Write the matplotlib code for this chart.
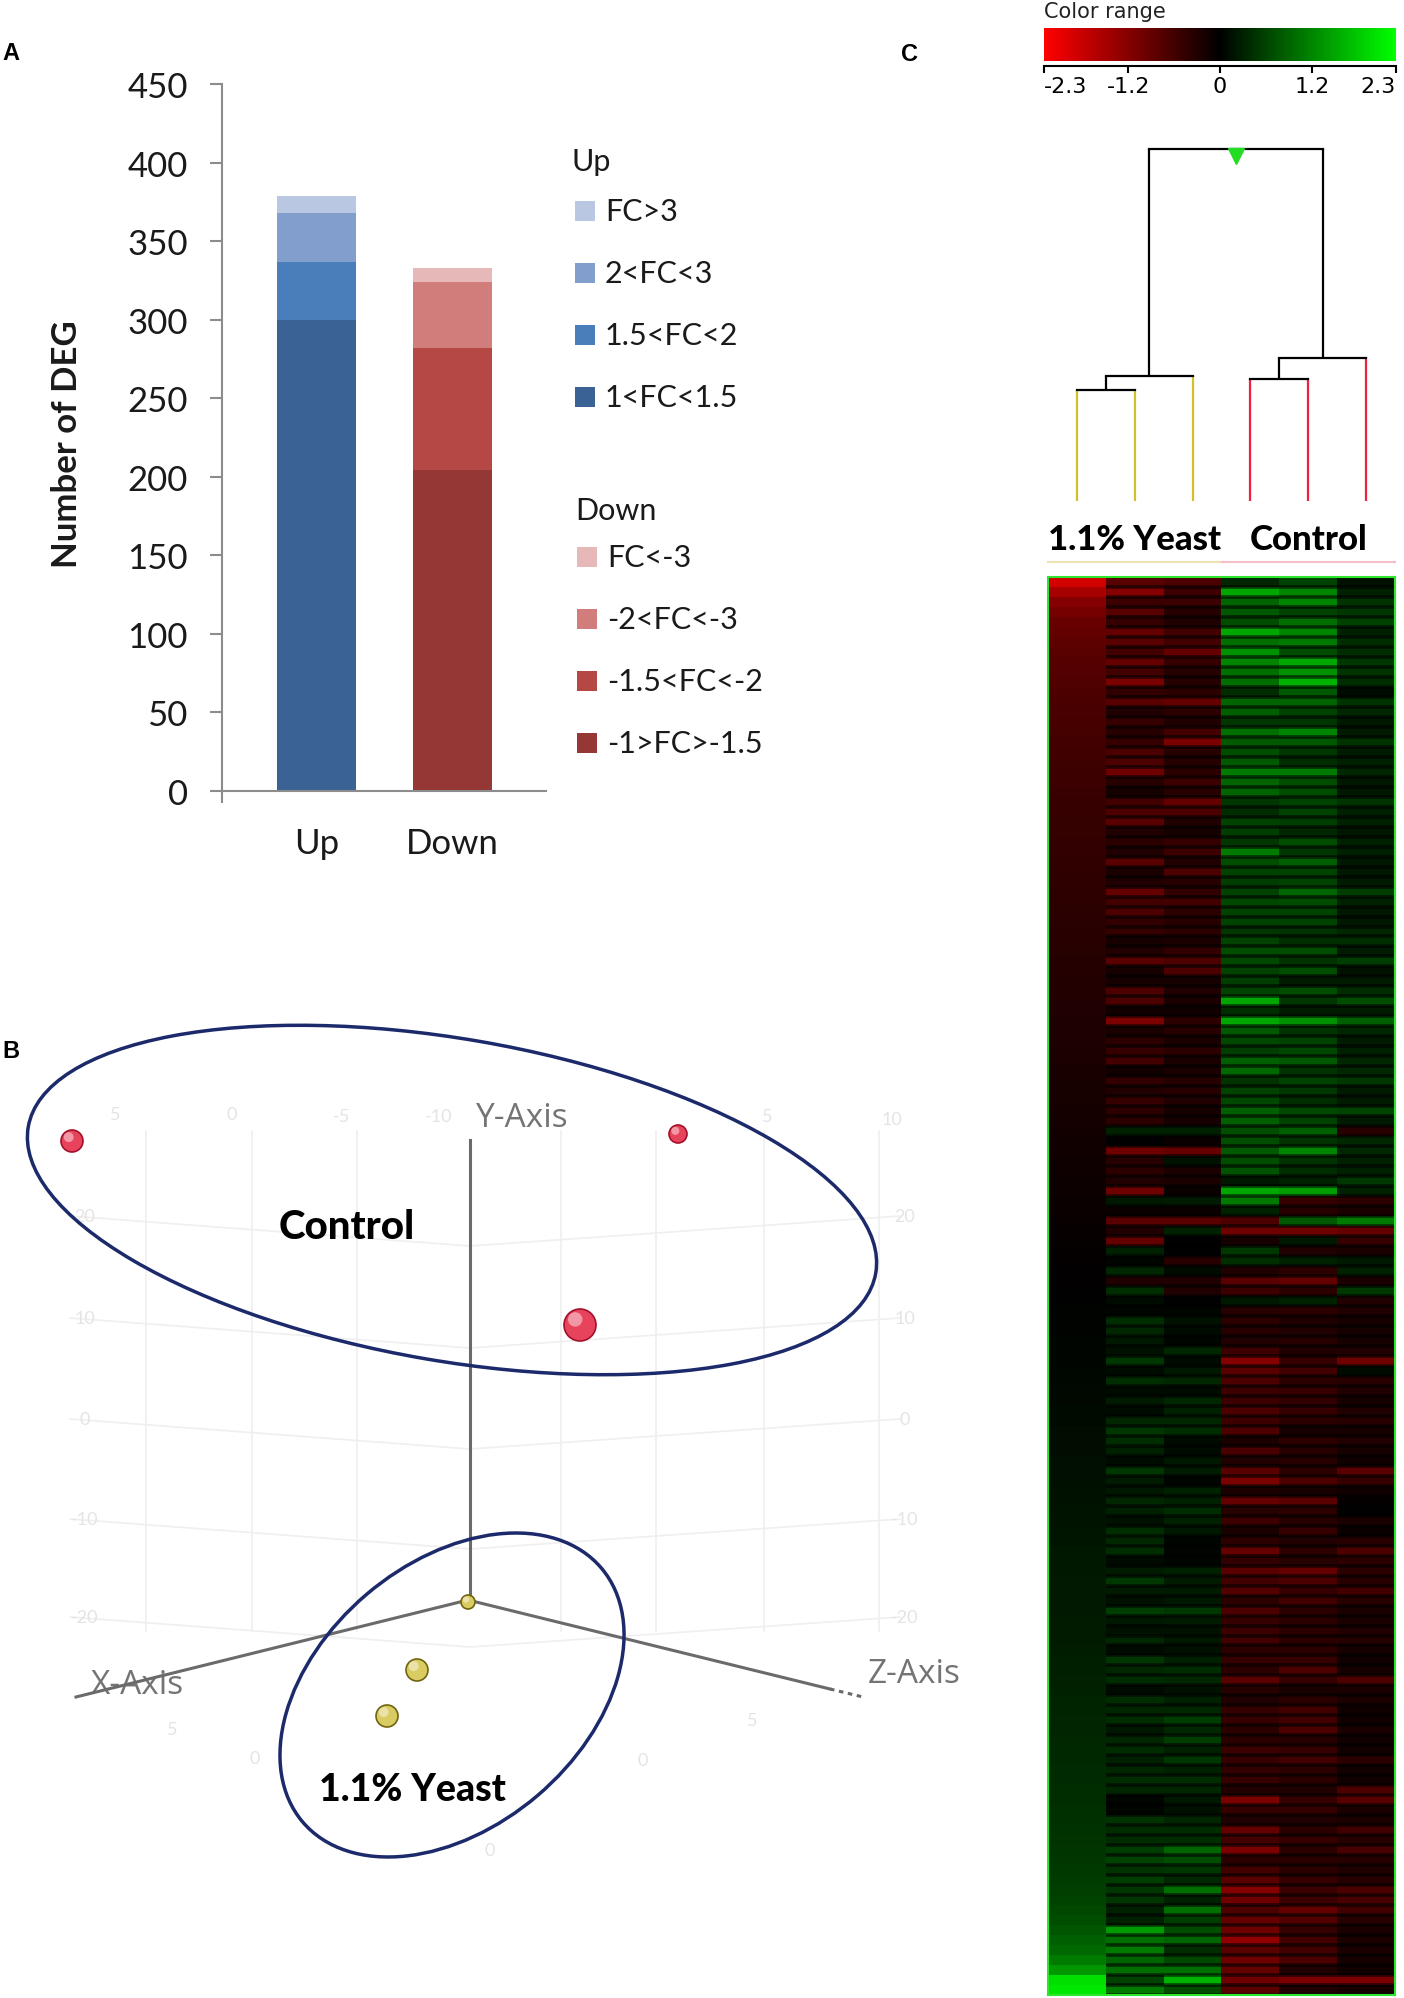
import numpy as np
import matplotlib
matplotlib.use("Agg")
import matplotlib.pyplot as plt
from matplotlib.colors import LinearSegmentedColormap, Normalize
from matplotlib.cm import ScalarMappable
from matplotlib.patches import Ellipse, Rectangle

W, H = 1404, 1999
plt.rcParams['font.family'] = ['Lato', 'DejaVu Sans']

# ---------------- panel A: number of DEG ----------------
deg_groups = ["Up", "Down"]
up_labels = ["1<FC<1.5", "1.5<FC<2", "2<FC<3", "FC>3"]
up_counts = [300, 37, 31, 11]
up_colors = ["#3A6294", "#4A7EBB", "#829ECC", "#B9C7E2"]
down_labels = ["-1>FC>-1.5", "-1.5<FC<-2", "-2<FC<-3", "FC<-3"]
down_counts = [204, 78, 42, 9]
down_colors = ["#953735", "#B54845", "#D07D7B", "#E6B9B8"]
deg_ticks = [0, 50, 100, 150, 200, 250, 300, 350, 400, 450]

# ---------------- panel B: PCA view (projected coordinates) ----------------
control_x = [72, 678, 580]
control_y = [1142, 1135, 1326]
control_r = [11, 9, 16]
yeast_x = [468, 417, 387]
yeast_y = [1603, 1671, 1717]
yeast_r = [7, 11, 11]

# ---------------- panel C: heatmap + dendrogram ----------------
cbar_ticks = [-2.3, -1.2, 0, 1.2, 2.3]
samples = ["Y1", "Y2", "Y3", "C1", "C2", "C3"]
groups_c = ["1.1% Yeast", "Control"]
# (left node, right node, height)  leaves 0-5, merged nodes 6..10
merges = [(0, 1, 0.315), (6, 2, 0.355), (3, 4, 0.347), (8, 5, 0.406), (7, 9, 1.0)]

yeast_1 = [-1.9, -1.5, -1.2, -1.05, -0.95, -0.9, -0.85, -0.8, -0.77, -0.74, -0.72, -0.7, -0.68, -0.66, -0.64,
           -0.62, -0.6, -0.58, -0.56, -0.55, -0.54, -0.52, -0.5, -0.49, -0.48, -0.47, -0.46, -0.45, -0.44, -0.43,
           -0.42, -0.41, -0.4, -0.39, -0.38,
           -0.37, -0.36, -0.35, -0.34, -0.33, -0.32, -0.31, -0.3, -0.29, -0.28, -0.27, -0.26, -0.25, -0.24, -0.23,
           -0.22, -0.21, -0.2, -0.19, -0.18, -0.17, -0.16, -0.15, -0.14, -0.13, -0.12, -0.11, -0.1, -0.09, -0.08,
           -0.07, -0.06, -0.05, -0.04, -0.03, -0.02,
           0.0, 0.01, 0.02, 0.02, 0.03, 0.04, 0.05, 0.05, 0.06, 0.07, 0.08, 0.08, 0.09, 0.1, 0.11, 0.11, 0.12,
           0.13, 0.14, 0.14, 0.15, 0.16, 0.17, 0.17, 0.18, 0.19, 0.2, 0.2, 0.21, 0.22, 0.22, 0.23, 0.23, 0.24, 0.24,
           0.25, 0.26, 0.27, 0.28, 0.29, 0.3, 0.31, 0.32, 0.33, 0.34, 0.35, 0.36, 0.37, 0.38, 0.39, 0.4, 0.41,
           0.42, 0.43, 0.44, 0.45, 0.47, 0.49, 0.51, 0.53, 0.56, 0.6, 0.64, 0.7, 0.77, 0.85, 0.95, 1.1, 1.35, 2.0, 2.1]
yeast_2 = [-0.8, -1.2, -0.55, -0.8, -0.5, -0.9, -0.8, -0.6, -0.9, -0.6, -1.1, -0.45, -0.8, -0.3, -0.5, -0.35,
           -0.5, -0.7, -0.7, -1.0, -0.35, -0.2, -0.6, -0.7, -0.8, -0.3, -0.4, -0.3, -0.8, -0.25, -0.3, -0.9, -0.6,
           -0.7, -0.45,
           -0.5, -0.2, -0.3, -0.8, -0.2, -0.2, -0.7, -0.7, -0.15, -1.1, -0.25, -0.4, -0.5, -0.6, -0.15, -0.45, -0.3,
           -0.5, -0.4, -0.4, 0.3, 0.0, -1.0, -0.35, -0.4, -0.3, -1.0, 0.2, -0.1, -0.8, -0.3, -0.9, 0.3, 0.05, 0.35,
           -0.3,
           0.4, 0.1, 0.05, 0.4, 0.35, 0.2, 0.15, 0.5, 0.1, 0.4, 0.1, 0.25, 0.1, 0.35, 0.5, 0.4, 0.3, 0.1, 0.5, 0.25,
           0.2, 0.35, 0.3, 0.15, 0.4, 0.35, 0.4, 0.1, 0.25, 0.5, 0.25, 0.15, 0.55, 0.2, 0.15,
           0.35, 0.1, 0.5, 0.35, 0.4, 0.1, 0.4, 0.35, 0.4, 0.2, 0.35, 0.4, 0.3, 0.35, 0.4, 0.35, 0.05, 0.05, 0.45,
           0.4, 0.4, 0.55, 0.6, 0.45, 0.55, 0.5, 0.5, 0.3, 0.3, 1.4, 1.0, 1.1, 0.9, 1.0, 0.6, 1.1]
yeast_3 = [-0.7, -0.55, -0.55, -0.35, -0.3, -0.6, -0.6, -0.9, -0.5, -0.35, -0.35, -0.4, -0.9, -0.4, -0.3, -0.6,
           -1.1, -0.35, -0.35, -0.4, -0.55, -0.35, -0.9, -0.7, -0.3, -0.2, -0.5, -0.55, -0.3, -0.7, -0.35, -0.45,
           -0.6, -0.4, -0.35,
           -0.4, -0.25, -0.45, -0.7, -0.7, -0.2, -0.3, -0.25, -0.15, -0.4, -0.35, -0.25, -0.4, -0.25, -0.25, -0.35,
           -0.35, -0.3, -0.2, -0.2, 0.3, -0.1, -0.9, 0.15, -0.25, -0.25, -0.1, 0.25, -0.1, -0.8, 0.3, 0.0, 0.0,
           -0.35, 0.1, -0.3,
           -0.3, 0.0, 0.05, 0.15, 0.1, 0.05, 0.35, 0.1, 0.2, 0.35, 0.1, 0.35, 0.3, 0.35, 0.4, 0.1, 0.1, 0.2, 0.25,
           0.05, 0.3, 0.3, 0.4, 0.3, 0.2, 0.05, 0.05, 0.05, 0.3, 0.25, 0.25, 0.2, 0.5, 0.25, 0.15,
           0.2, 0.15, 0.3, 0.4, 0.35, 0.15, 0.3, 0.35, 0.55, 0.35, 0.55, 0.3, 0.5, 0.3, 0.4, 0.35, 0.2, 0.15, 0.35,
           0.4, 0.4, 0.9, 0.7, 0.5, 0.35, 1.0, 0.3, 1.0, 0.55, 0.7, 0.9, 0.4, 0.65, 1.0, 1.6, 0.7]
control_1 = [0.35, 1.5, 0.9, 0.8, 0.7, 1.5, 1.0, 1.3, 1.2, 1.0, 1.0, 0.4, 0.9, 0.85, 0.5, 1.0, 0.8, 0.7, 0.8,
             1.1, 0.9, 0.9, 0.5, 0.4, 0.6, 0.55, 0.5, 1.1, 0.7, 0.6, 0.55, 0.6, 0.65, 0.6, 0.6,
             0.5, 0.6, 0.7, 0.65, 0.6, 0.55, 0.6, 1.5, 0.4, 1.5, 0.8, 0.65, 0.55, 0.85, 0.95, 0.45, 0.6, 0.65,
             0.85, 0.85, 0.7, 0.7, 0.8, 0.7, 0.75, 0.2, 1.5, 1.1, 0.3, -0.7, -1.0, -0.2, 0.5, 0.4, -0.3, -0.8,
             -0.55, 0.2, -0.35, -0.4, -0.35, -0.3, -0.55, -1.2, -0.8, -0.7, -0.55, -0.55, -0.7, -0.55, -0.7,
             -0.25, -0.65, -0.3, -0.8, -1.1, -0.25, -0.9, -0.35, -0.55, -0.25, -0.4, -0.9, -0.45, -0.8, -0.6,
             -0.75, -0.4, -0.7, -0.5, -0.55,
             -0.6, -0.4, -0.5, -0.4, -0.8, -0.35, -0.3, -0.5, -0.5, -0.4, -0.4, -0.55, -0.5, -0.45, -0.5, -0.3,
             -1.1, -0.5, -0.3, -0.9, -0.6, -1.1, -0.4, -0.6, -0.8, -1.2, -1.0, -0.7, -0.9, -1.0, -1.3, -0.8, -1.0,
             -0.9, -1.0, -0.8]
control_2 = [0.6, 1.2, 1.2, 0.6, 1.0, 1.2, 1.1, 0.7, 1.5, 1.3, 1.6, 0.8, 0.9, 0.6, 0.5, 1.2, 0.8, 0.5, 0.4,
             1.1, 0.7, 0.7, 0.6, 0.6, 0.55, 0.35, 0.7, 0.5, 0.85, 0.6, 0.6, 0.9, 0.7, 0.6, 0.6,
             0.45, 0.4, 0.7, 0.45, 0.7, 0.25, 0.7, 0.5, 0.25, 1.3, 0.45, 0.6, 0.65, 0.8, 0.45, 0.6, 0.5, 0.4,
             0.65, 0.6, 0.85, 0.45, 1.2, 0.45, 0.4, 0.3, 1.4, -0.5, -0.35, 0.8, -1.0, 0.2, -0.3, 0.3, -0.4, -0.9,
             -0.4, 0.3, -0.4, -0.3, -0.3, -0.35, -0.3, -0.5, -0.6, -0.4, -0.5, -0.45, -0.5, -0.4, -0.2, -0.4,
             -0.35, -0.35, -0.4, -0.7, -0.2, -0.8, -0.4, -0.35, -0.5, -0.3, -0.4, -0.35, -0.9, -0.7, -0.5, -0.6,
             -0.4, -0.4, -0.4,
             -0.4, -0.4, -0.5, -0.7, -0.5, -0.25, -0.4, -0.6, -0.6, -0.7, -0.35, -0.5, -0.6, -0.4, -0.4, -0.3,
             -0.5, -0.5, -0.3, -0.4, -0.5, -0.4, -0.4, -0.4, -0.5, -0.55, -0.55, -0.9, -0.75, -0.5, -0.6, -0.6,
             -0.7, -0.3, -1.1, -0.3]
control_3 = [0.15, 0.3, 0.45, 0.5, 0.6, 0.3, 0.4, 0.4, 0.5, 0.45, 0.4, 0.1, 0.45, 0.35, 0.2, 0.25, 0.45, 0.25,
             0.3, 0.35, 0.2, 0.2, 0.45, 0.3, 0.3, 0.2, 0.3, 0.3, 0.2, 0.2, 0.25, 0.55, 0.3, 0.2, 0.2,
             0.35, 0.4, 0.25, 0.55, 0.15, 0.25, 0.4, 0.7, 0.25, 0.85, 0.35, 0.25, 0.3, 0.35, 0.35, 0.5, 0.25, 0.25,
             0.6, 0.25, -0.35, 0.35, 0.35, 0.3, 0.3, 0.5, 0.3, -0.4, -0.25, 1.1, -0.9, -0.5, -0.25, 0.2, 0.3, -0.25,
             0.5, -0.3, -0.3, -0.2, -0.2, -0.2, -0.3, -1.0, 0.1, -0.35, -0.3, -0.2, -0.3, -0.35, -0.2, -0.3, -0.2,
             -0.15, -0.8, -0.5, -0.15, -0.05, 0.0, -0.25, -0.1, -0.35, -0.7, -0.4, -0.4, -0.35, -0.6, -0.35, -0.25,
             -0.25, -0.3,
             -0.35, -0.2, -0.15, -0.2, -0.7, -0.25, -0.25, -0.15, -0.15, -0.25, -0.15, -0.15, -0.4, -0.15, -0.15,
             -0.7, -0.8, -0.25, -0.25, -0.6, -0.35, -0.65, -0.35, -0.3, -0.35, -0.7, -0.65, -0.6, -0.35, -0.25,
             -0.25, -0.25, -0.2, -0.15, -1.1, -0.2]

columns = [yeast_1, yeast_2, yeast_3, control_1, control_2, control_3]
assert all(len(c) == 142 for c in columns), [len(c) for c in columns]
expr = np.array(columns).T


def box(x0, y0, x1, y1):
    # pixel box (top-left origin) -> figure fraction rect
    return [x0 / W, 1 - y1 / H, (x1 - x0) / W, (y1 - y0) / H]


fig = plt.figure(figsize=(W / 100, H / 100), dpi=100)
fig.patch.set_facecolor("white")

ov = fig.add_axes([0, 0, 1, 1])
ov.set_xlim(0, W)
ov.set_ylim(H, 0)
ov.axis("off")

# panel letters
for lab, x, y in [("A", 11, 53), ("B", 11, 1051), ("C", 910, 54)]:
    ov.text(x, y, lab, fontsize=17, fontweight="bold", family="Liberation Sans", ha="center", va="center")

# ---------------- A ----------------
axA = fig.add_axes(box(222, 85, 546, 792))
axA.set_facecolor("none")
bu, bd = 0, 0
for k in range(4):
    axA.bar([0, 1], [up_counts[k], down_counts[k]], 0.58, bottom=[bu, bd],
            color=[up_colors[k], down_colors[k]], linewidth=0)
    bu += up_counts[k]
    bd += down_counts[k]
axA.set_xlim(-0.695, 1.6875)
axA.set_ylim(0, 450)
for s in ["top", "right"]:
    axA.spines[s].set_visible(False)
for s in ["left", "bottom"]:
    axA.spines[s].set_color("#8C8C8C")
    axA.spines[s].set_linewidth(1.5)
axA.set_yticks(deg_ticks)
axA.tick_params(axis="y", length=8.6, width=1.5, color="#8C8C8C", labelsize=25, pad=16, labelcolor="#1a1a1a")
axA.set_xticks([0, 1], labels=deg_groups)
axA.tick_params(axis="x", length=0, labelsize=25, pad=26, labelcolor="#1a1a1a")
axA.set_xticks([-0.695], minor=True)
axA.tick_params(axis="x", which="minor", length=8.6, width=1.5, color="#8C8C8C")
ov.text(67, 444, "Number of DEG", rotation=90, fontsize=25, fontweight="bold", ha="center", va="center",
        color="#1a1a1a")

# legends
ov.text(572, 162, "Up", fontsize=22, va="center", color="#1a1a1a")
for i, k in enumerate(range(3, -1, -1)):
    y = 212 + 62 * i
    ov.add_patch(Rectangle((575, y - 10), 20, 20, color=up_colors[k], lw=0))
    ov.text(605, y, up_labels[k], fontsize=22, va="center", color="#1a1a1a")
ov.text(575, 511, "Down", fontsize=22, va="center", color="#1a1a1a")
for i, k in enumerate(range(3, -1, -1)):
    y = 558 + 62 * i
    ov.add_patch(Rectangle((577, y - 10), 20, 20, color=down_colors[k], lw=0))
    ov.text(607, y, down_labels[k], fontsize=22, va="center", color="#1a1a1a")

# ---------------- B ----------------
axB = fig.add_axes(box(0, 1000, 1000, 1999))
axB.set_xlim(0, 1000)
axB.set_ylim(1999, 1000)
axB.axis("off")
axB.patch.set_alpha(0)

grid_c = "#efefef"
for x in [146, 252, 357, 561, 656, 764, 879]:
    axB.plot([x, x], [1132, 1632], color=grid_c, lw=1.2, zorder=0)
for yl, lab in zip([1217, 1319, 1420, 1520, 1618], ["20", "10", "0", "-10", "-20"]):
    axB.plot([70, 470, 900], [yl, yl + 30, yl], color=grid_c, lw=1.2, zorder=0)
    axB.text(85, yl, lab, color="#e4e4e4", fontsize=13, ha="center", va="center", zorder=0)
    axB.text(905, yl, lab, color="#e4e4e4", fontsize=13, ha="center", va="center", zorder=0)
for x, y, lab in [(115, 1115, "5"), (232, 1115, "0"), (341, 1117, "-5"), (439, 1117, "-10"),
                  (767, 1117, "5"), (892, 1120, "10"), (172, 1730, "5"), (255, 1759, "0"),
                  (643, 1761, "0"), (752, 1721, "5"), (490, 1851, "0")]:
    axB.text(x, y, lab, color="#e4e4e4", fontsize=13, ha="center", va="center", zorder=0)

axis_c = "#6a6a6a"
axB.plot([470, 470], [1601, 1141], color=axis_c, lw=2.2, zorder=2)
axB.plot([468, 76], [1601, 1698], color=axis_c, lw=2.2, zorder=2)
axB.plot([468, 830], [1601, 1690], color=axis_c, lw=2.2, zorder=2)
axB.plot([830, 863], [1690, 1698], color=axis_c, lw=2.2, ls=(0, (1.5, 1.5)), zorder=2)
lab_kw = dict(color="#747474", fontsize=24, family="Open Sans", ha="center", va="center")
axB.text(522, 1119, "Y-Axis", **lab_kw)
axB.text(137, 1686, "X-Axis", zorder=1, **lab_kw)
axB.text(914, 1675, "Z-Axis", **lab_kw)

sz = lambda r: (2 * np.asarray(r) * 0.72) ** 2
axB.scatter(control_x, control_y, s=sz(control_r), color="#E8435C", edgecolors="#A3102A", linewidths=1.2,
            zorder=4)
axB.scatter(yeast_x, yeast_y, s=sz(yeast_r), color="#D9CC62", edgecolors="#6F6410", linewidths=1.2, zorder=4)
hx = np.array(control_x) - 0.3 * np.array(control_r)
hy = np.array(control_y) - 0.35 * np.array(control_r)
axB.scatter(hx, hy, s=sz(0.45 * np.array(control_r)), color="white", alpha=0.45, lw=0, zorder=5)
hx = np.array(yeast_x) - 0.3 * np.array(yeast_r)
hy = np.array(yeast_y) - 0.35 * np.array(yeast_r)
axB.scatter(hx, hy, s=sz(0.45 * np.array(yeast_r)), color="white", alpha=0.45, lw=0, zorder=5)

axB.add_patch(Ellipse((452, 1201), 860, 322, angle=9.8, fill=False, ec="#1C2A6B", lw=2.5, zorder=3))
axB.add_patch(Ellipse((452, 1696), 392, 264, angle=-40.4, fill=False, ec="#1C2A6B", lw=2.5, zorder=3))
axB.text(347, 1228, "Control", fontsize=29, fontweight=900, ha="center", va="center", zorder=6)
axB.text(412, 1790, "1.1% Yeast", fontsize=27, fontweight=900, ha="center", va="center", zorder=6)

# ---------------- C ----------------
cmap = LinearSegmentedColormap.from_list("rbg", ["#FF0000", "#000000", "#00FF00"])
norm = Normalize(-2.3, 2.3)

ov.text(1044, 12, "Color range", fontsize=15, family="DejaVu Sans", va="center", ha="left", color="#222222")
cax = fig.add_axes(box(1044, 29, 1396, 62))
cb = fig.colorbar(ScalarMappable(norm=norm, cmap=cmap), cax=cax, orientation="horizontal")
cb.outline.set_visible(False)
cax.set_xticks([])

tax = fig.add_axes(box(1044, 67, 1396, 73))
tax.set_facecolor("none")
tax.set_xlim(-2.3, 2.3)
tax.set_yticks([])
for s in ["left", "right", "bottom"]:
    tax.spines[s].set_visible(False)
tax.spines["top"].set_linewidth(1.5)
tax.set_xticks(cbar_ticks, labels=[f"{t:g}" for t in cbar_ticks])
tax.tick_params(axis="x", top=True, bottom=False, labeltop=False, labelbottom=True, direction="in",
                length=5, width=1.5, labelsize=16, pad=3)
for t in tax.get_xticklabels():
    t.set_family("DejaVu Sans")
tax.get_xticklabels()[0].set_ha("left")
tax.get_xticklabels()[-1].set_ha("right")

axD = fig.add_axes(box(1048, 150, 1395, 502))
axD.set_xlim(0, 6)
axD.set_ylim(0, 1)
axD.axis("off")
leaf_colors = ["#D4BF2C"] * 3 + ["#F0203F"] * 3
node_x = {i: i + 0.5 for i in range(len(samples))}
node_h = {i: 0.0 for i in range(len(samples))}
for k, (a, b, h) in enumerate(merges):
    for c in (a, b):
        col = leaf_colors[c] if c < len(samples) else "black"
        axD.plot([node_x[c]] * 2, [node_h[c], h], color=col, lw=1.6, clip_on=False, solid_capstyle="butt")
    axD.plot([node_x[a], node_x[b]], [h, h], color="black", lw=1.6, clip_on=False, solid_capstyle="projecting")
    node_x[len(samples) + k] = (node_x[a] + node_x[b]) / 2
    node_h[len(samples) + k] = h
root = len(samples) + len(merges) - 1
axD.plot(node_x[root], node_h[root] - 0.021, marker="v", ms=11, color="#22DD22", clip_on=False)

px_per_unit = (502 - 150)
for gi, name in enumerate(groups_c):
    xc = 1.5 + 3 * gi
    axD.text(xc, (502 - 540) / px_per_unit, name, fontsize=25, fontweight=900, ha="center", va="center")
axD.plot([0, 3], [(502 - 563) / px_per_unit] * 2, color="#EDE3B0", lw=1.5, clip_on=False)
axD.plot([3, 6], [(502 - 563) / px_per_unit] * 2, color="#F7BCCA", lw=1.5, clip_on=False)

axH = fig.add_axes(box(1048, 578, 1395, 1996))
axH.imshow(expr, aspect="auto", cmap=cmap, norm=norm, interpolation="nearest")
# thin dark gaps between gene rows (striped look of the original)
axH.hlines(np.arange(len(yeast_1)) + 0.5, 0.5, 5.5, color="black", lw=2.6, alpha=0.6)
axH.set_xlim(-0.5, 5.5)
axH.set_ylim(len(yeast_1) - 0.5, -0.5)
axH.set_xticks([])
axH.set_yticks([])
for s in axH.spines.values():
    s.set_color("#2EE62E")
    s.set_linewidth(1.5)

fig.savefig("out.png", dpi=100)
